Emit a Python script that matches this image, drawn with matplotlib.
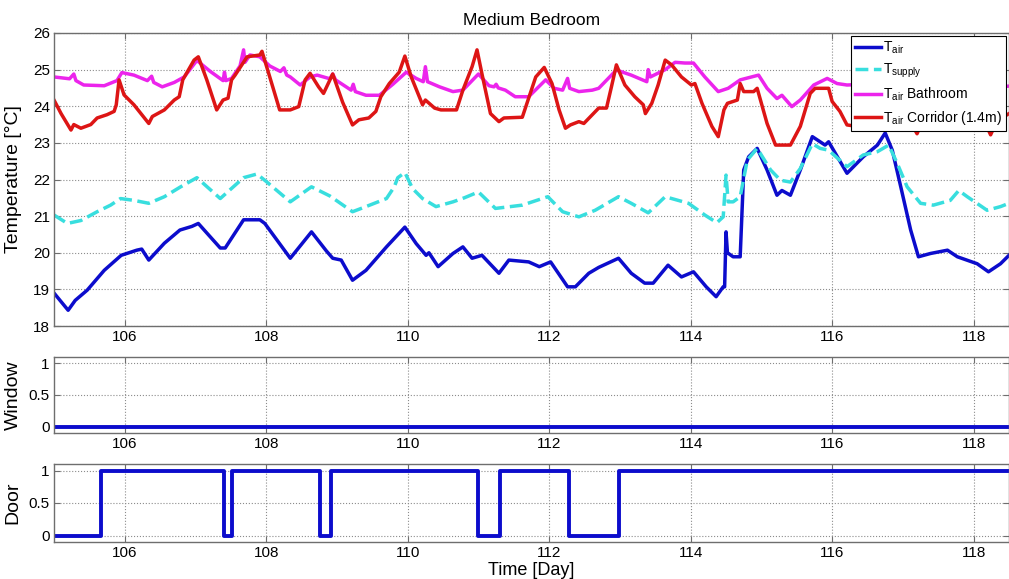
import matplotlib
matplotlib.use("Agg")
import matplotlib.pyplot as plt
import numpy as np

plt.rcParams["font.family"] = ["Liberation Sans", "DejaVu Sans"]

# T_air (medium bedroom)
air_days = [105.00, 105.20, 105.30, 105.47, 105.71, 105.95, 106.17, 106.24, 106.34, 106.56,
            106.78, 106.95, 107.04, 107.16, 107.35, 107.42, 107.68, 107.91, 107.98, 108.34,
            108.64, 108.85, 108.94, 109.06, 109.22, 109.41, 109.70, 109.96, 110.12, 110.26,
            110.30, 110.43, 110.64, 110.78, 110.91, 111.05, 111.29, 111.43, 111.71, 111.86,
            112.02, 112.26, 112.37, 112.56, 112.70, 112.98, 113.16, 113.35, 113.47, 113.68,
            113.87, 114.04, 114.22, 114.36, 114.46, 114.48, 114.50, 114.52, 114.60, 114.70,
            114.75, 114.82, 114.94, 115.08, 115.22, 115.29, 115.41, 115.55, 115.72, 115.90,
            115.95, 116.21, 116.44, 116.64, 116.75, 116.85, 116.97, 117.11, 117.22, 117.39,
            117.63, 117.77, 118.05, 118.21, 118.38, 118.50]
air_temp = [18.90, 18.43, 18.70, 18.98, 19.52, 19.93, 20.07, 20.10, 19.80, 20.26,
            20.62, 20.72, 20.80, 20.54, 20.13, 20.13, 20.90, 20.90, 20.80, 19.85,
            20.57, 20.05, 19.85, 19.80, 19.25, 19.52, 20.16, 20.70, 20.25, 19.93,
            20.00, 19.62, 19.98, 20.16, 19.85, 19.93, 19.44, 19.80, 19.75, 19.62,
            19.75, 19.07, 19.07, 19.44, 19.60, 19.85, 19.44, 19.17, 19.17, 19.66,
            19.34, 19.48, 19.07, 18.80, 19.07, 19.07, 20.57, 20.00, 19.89, 19.89,
            22.26, 22.62, 22.85, 22.26, 21.57, 21.70, 21.57, 22.26, 23.17, 22.94,
            23.03, 22.17, 22.62, 22.94, 23.27, 22.80, 21.80, 20.62, 19.89, 19.98,
            20.07, 19.89, 19.70, 19.48, 19.70, 19.93]

# T_supply
supply_days = [105.00, 105.19, 105.38, 105.61, 105.80, 105.94, 106.13, 106.34, 106.56, 106.79,
               107.02, 107.35, 107.68, 107.87, 108.01, 108.34, 108.64, 108.90, 109.22, 109.41,
               109.70, 109.81, 109.86, 109.96, 110.07, 110.21, 110.40, 110.64, 110.80, 111.00,
               111.24, 111.62, 111.98, 112.19, 112.42, 112.65, 112.98, 113.16, 113.40, 113.64,
               113.97, 114.20, 114.37, 114.46, 114.50, 114.53, 114.60, 114.70, 114.80, 114.94,
               115.13, 115.27, 115.41, 115.55, 115.72, 115.83, 115.95, 116.21, 116.44, 116.64,
               116.80, 116.92, 117.06, 117.25, 117.43, 117.67, 117.79, 117.91, 118.19, 118.38,
               118.50]
supply_temp = [21.03, 20.80, 20.88, 21.12, 21.30, 21.48, 21.43, 21.35, 21.53, 21.80,
               22.05, 21.48, 22.05, 22.15, 21.93, 21.39, 21.80, 21.55, 21.12, 21.26,
               21.48, 21.80, 22.05, 22.19, 21.75, 21.48, 21.26, 21.39, 21.50, 21.66,
               21.21, 21.30, 21.53, 21.12, 20.98, 21.16, 21.53, 21.35, 21.09, 21.53,
               21.35, 21.03, 20.82, 20.98, 22.12, 21.39, 21.39, 21.53, 22.53, 22.85,
               22.26, 21.98, 21.93, 22.30, 22.98, 22.85, 22.80, 22.35, 22.67, 22.76,
               22.94, 22.44, 21.80, 21.35, 21.30, 21.43, 21.70, 21.53, 21.16, 21.26,
               21.35]

# T_air bathroom
bath_days = [105.00, 105.22, 105.28, 105.31, 105.42, 105.71, 105.89, 105.96, 106.13, 106.32,
             106.38, 106.41, 106.53, 106.70, 106.84, 107.02, 107.21, 107.39, 107.41, 107.43,
             107.51, 107.63, 107.68, 107.70, 107.77, 107.91, 108.05, 108.20, 108.25, 108.29,
             108.34, 108.48, 108.62, 108.72, 108.90, 108.94, 108.98, 109.20, 109.23, 109.26,
             109.41, 109.60, 109.79, 109.98, 110.12, 110.22, 110.25, 110.28, 110.45, 110.64,
             110.78, 111.00, 111.15, 111.22, 111.25, 111.28, 111.38, 111.52, 111.71, 111.95,
             112.07, 112.19, 112.26, 112.29, 112.42, 112.61, 112.70, 112.95, 113.16, 113.38,
             113.40, 113.43, 113.64, 113.78, 113.92, 114.04, 114.20, 114.39, 114.53, 114.70,
             114.96, 115.08, 115.22, 115.29, 115.43, 115.55, 115.74, 115.93, 116.07, 116.21,
             116.50, 116.80, 117.10, 117.40, 117.80, 118.10, 118.50]
bath_temp = [24.80, 24.75, 24.88, 24.70, 24.58, 24.56, 24.70, 24.92, 24.85, 24.70,
             24.82, 24.65, 24.53, 24.65, 24.80, 25.25, 24.95, 24.70, 24.93, 24.70,
             24.76, 25.10, 25.54, 25.20, 25.40, 25.35, 25.10, 24.95, 25.05, 24.85,
             24.80, 24.58, 24.80, 24.85, 24.75, 24.88, 24.72, 24.44, 24.60, 24.40,
             24.30, 24.30, 24.60, 24.93, 24.76, 24.67, 25.08, 24.67, 24.53, 24.40,
             24.44, 24.88, 24.56, 24.53, 24.60, 24.50, 24.44, 24.26, 24.26, 24.72,
             24.49, 24.44, 24.76, 24.49, 24.40, 24.44, 24.49, 24.99, 24.85, 24.67,
             25.00, 24.80, 25.00, 25.20, 25.18, 25.18, 24.80, 24.40, 24.49, 24.72,
             24.85, 24.49, 24.21, 24.30, 23.99, 24.17, 24.58, 24.76, 24.62, 24.58,
             24.60, 24.70, 24.55, 24.50, 24.60, 24.50, 24.55]

# T_air corridor (1.4m)
corr_days = [105.00, 105.10, 105.24, 105.28, 105.38, 105.52, 105.61, 105.75, 105.85, 105.88,
             105.92, 105.99, 106.13, 106.34, 106.39, 106.56, 106.70, 106.77, 106.82, 106.98,
             107.04, 107.16, 107.30, 107.39, 107.46, 107.51, 107.56, 107.73, 107.91, 107.94,
             108.05, 108.19, 108.34, 108.46, 108.55, 108.62, 108.74, 108.81, 108.94, 109.08,
             109.22, 109.31, 109.45, 109.55, 109.62, 109.74, 109.88, 109.96, 110.05, 110.21,
             110.25, 110.38, 110.47, 110.69, 110.78, 110.91, 110.98, 111.05, 111.17, 111.29,
             111.36, 111.62, 111.67, 111.81, 111.93, 112.04, 112.14, 112.23, 112.30, 112.42,
             112.49, 112.61, 112.70, 112.81, 112.88, 112.95, 113.07, 113.21, 113.33, 113.36,
             113.45, 113.54, 113.64, 113.73, 113.87, 114.01, 114.06, 114.16, 114.30, 114.39,
             114.47, 114.52, 114.66, 114.70, 114.75, 114.89, 114.94, 115.08, 115.20, 115.41,
             115.55, 115.69, 115.76, 115.95, 116.00, 116.11, 116.21, 116.35, 116.60, 116.90,
             117.10, 117.20, 117.30, 117.60, 117.90, 118.15, 118.24, 118.33, 118.50]
corr_temp = [24.17, 23.80, 23.35, 23.50, 23.40, 23.50, 23.68, 23.77, 23.86, 24.04,
             24.72, 24.31, 24.04, 23.53, 23.72, 23.90, 24.17, 24.26, 24.72, 25.26,
             25.35, 24.72, 23.90, 24.17, 24.22, 24.72, 24.85, 25.35, 25.40, 25.50,
             24.80, 23.90, 23.90, 23.99, 24.72, 24.90, 24.53, 24.35, 24.88, 24.11,
             23.49, 23.63, 23.68, 23.86, 24.26, 24.62, 24.93, 25.37, 24.80, 24.04,
             24.17, 23.95, 23.90, 23.90, 24.44, 25.08, 25.54, 24.88, 23.80, 23.58,
             23.68, 23.70, 23.99, 24.80, 25.06, 24.62, 23.90, 23.40, 23.49, 23.58,
             23.53, 23.77, 23.95, 23.95, 24.53, 25.13, 24.58, 24.26, 24.04, 23.80,
             24.08, 24.58, 25.26, 25.13, 24.80, 24.58, 24.62, 24.08, 23.45, 23.17,
             23.90, 24.08, 24.17, 24.62, 24.40, 24.40, 24.49, 23.53, 22.94, 22.94,
             23.45, 24.35, 24.49, 24.49, 24.13, 23.86, 23.49, 23.45, 23.70, 23.90,
             23.60, 23.25, 23.70, 23.90, 23.80, 23.60, 23.22, 23.60, 23.80]

window_days = [105.0, 118.5]
window_state = [0, 0]

door_days = [105.0, 105.67, 107.41, 107.51, 108.76, 108.91, 110.99, 111.31, 112.28, 112.99, 118.5]
door_state = [0, 1, 0, 1, 0, 1, 0, 1, 0, 1, 1]

xticks = np.arange(106, 119, 2)
x_range = (105.0, 118.5)

blue = "#0c0ccc"
frame = "#6e6e6e"


def style_axis(ax):
    ax.set_xlim(x_range)
    ax.set_xticks(xticks)
    ax.grid(True, linestyle=":", color="#8c8c8c", linewidth=0.8)
    ax.tick_params(direction="in", top=True, right=True, labelsize=11,
                   color=frame, length=4, pad=3)
    for s in ax.spines.values():
        s.set_color(frame)
        s.set_linewidth(1.0)


fig = plt.figure(figsize=(10.09, 5.79), dpi=100)
ax1 = fig.add_axes([54 / 1009, 1 - 326 / 579, 1 - 54 / 1009, 293 / 579])
ax2 = fig.add_axes([54 / 1009, 1 - 433 / 579, 1 - 54 / 1009, 76 / 579])
ax3 = fig.add_axes([54 / 1009, 1 - 542 / 579, 1 - 54 / 1009, 78 / 579])

ax1.plot(air_days, air_temp, color=blue, lw=2.5, label=r"$\mathregular{T_{air}}$")
ax1.plot(supply_days, supply_temp, color="#38dede", lw=2.5, ls="--",
         label=r"$\mathregular{T_{supply}}$")
ax1.plot(bath_days, bath_temp, color="#ec24ec", lw=2.5,
         label=r"$\mathregular{T_{air}}$ Bathroom")
ax1.plot(corr_days, corr_temp, color="#dd1515", lw=2.5,
         label=r"$\mathregular{T_{air}}$ Corridor (1.4m)")
style_axis(ax1)
ax1.set_ylim(18, 26)
ax1.set_yticks(np.arange(18, 27, 1))
ax1.set_title("Medium Bedroom", fontsize=12.5, pad=6)
ax1.set_ylabel("Temperature [\u00b0C]", fontsize=14)
ax1.yaxis.set_label_coords(-0.034, 0.5)
leg = ax1.legend(loc="upper right", fontsize=10, handlelength=1.9, handletextpad=0.15,
                 borderaxespad=0.2, borderpad=0.3, labelspacing=0.4, fancybox=False,
                 framealpha=1, edgecolor="black")
leg.get_frame().set_linewidth(0.8)

ax2.plot(window_days, window_state, color=blue, lw=2.8)
style_axis(ax2)
ax2.set_ylim(-0.1, 1.1)
ax2.set_yticks([0, 0.5, 1])
ax2.set_yticklabels(["0", "0.5", "1"])
ax2.set_ylabel("Window", fontsize=14)
ax2.yaxis.set_label_coords(-0.034, 0.5)

ax3.plot(door_days, door_state, color=blue, lw=2.8, drawstyle="steps-post")
style_axis(ax3)
ax3.set_ylim(-0.1, 1.1)
ax3.set_yticks([0, 0.5, 1])
ax3.set_yticklabels(["0", "0.5", "1"])
ax3.set_ylabel("Door", fontsize=14)
ax3.yaxis.set_label_coords(-0.034, 0.5)
ax3.set_xlabel("Time [Day]", fontsize=13, labelpad=1)

fig.savefig("out.png", dpi=100)
